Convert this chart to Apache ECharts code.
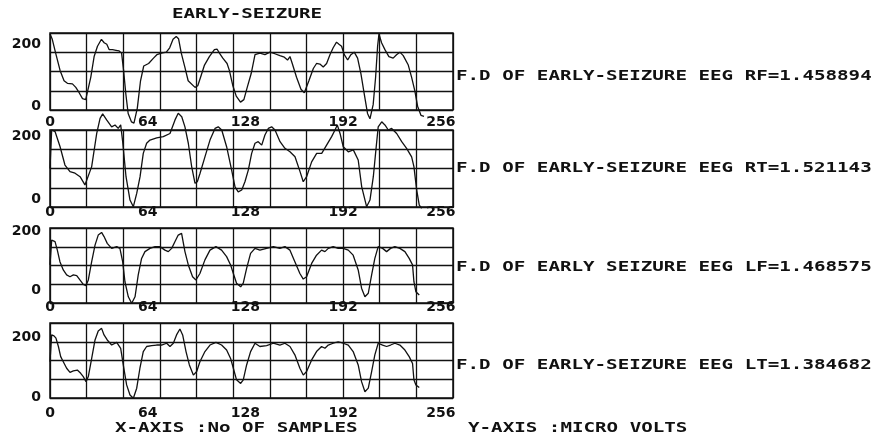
<!DOCTYPE html>
<html>
<head>
<meta charset="utf-8">
<script src="https://cdn.jsdelivr.net/npm/echarts@6/dist/echarts.min.js"></script>
<style>html,body{margin:0;padding:0;background:#fff}#c{width:879px;height:438px}</style>
</head>
<body>
<div id="c"></div>
<script>
// ---- data (sample number, micro volts) ----
const chartTitle = 'EARLY-SEIZURE';
const xTickLabels = [0, 64, 128, 192, 256];
const yTickLabels = [0, 200];
const xAxisTitle = 'X-AXIS :No OF SAMPLES';
const yAxisTitle = 'Y-AXIS :MICRO VOLTS';
const panelNotes = [
  'F.D OF EARLY-SEIZURE EEG RF=1.458894',
  'F.D OF EARLY-SEIZURE EEG RT=1.521143',
  'F.D OF EARLY SEIZURE EEG LF=1.468575',
  'F.D OF EARLY-SEIZURE EEG LT=1.384682'
];
const rfTrace = [[0,232],[1.5,215],[3.7,171],[6.6,116],[9.2,83],[11.4,75],[14.7,73],[16.9,62],[19.1,45],[21.3,26],[23.4,23],[26.7,94],[28.9,160],[31.1,193],[33.7,215],[35.5,204],[37.2,199],[38.8,182],[41,182],[43.2,180],[45.3,178],[46.9,171],[48.2,116],[49.7,40],[51.2,-21],[53.4,-48],[55,-52],[57.2,-4],[59.3,83],[61.4,130],[64.6,138],[67.8,155],[70,166],[73,171],[76.2,174],[78.4,188],[80.6,215],[82.7,224],[84.2,217],[86,171],[88.3,127],[90.5,83],[95,62],[96.8,67],[99,100],[101.2,133],[104.4,160],[107.7,182],[109.4,184],[111,171],[113.2,155],[116,138],[117.5,116],[119.8,67],[122,34],[124.8,15],[127,23],[129.2,62],[131.8,106],[134.3,166],[137.5,171],[140.8,166],[144.1,174],[147.3,169],[150.6,163],[153.5,158],[155.6,149],[157.2,160],[158.7,138],[161.5,94],[164.4,56],[166.6,45],[167.6,51],[169.6,83],[172.5,122],[174.6,138],[176.8,136],[179,127],[181.2,138],[183.4,166],[185.5,188],[187.7,206],[189.3,199],[191,193],[192.8,166],[195,149],[197.1,166],[199.3,174],[201.5,155],[203.7,105],[205.9,40],[208,-21],[209.6,-38],[211.7,7],[213.3,94],[214.6,193],[215.5,232],[217.2,204],[219.4,182],[222,160],[224.8,155],[227,166],[229.2,174],[231.4,163],[234.7,133],[236.9,94],[239,51],[240.8,2],[243,-27],[245,-30]];
const rtTrace = [[0,97],[1.1,219],[3.3,214],[6.6,166],[9.8,108],[13.1,87],[16.4,82],[19.7,71],[22.9,45],[24,39],[27.3,103],[30.6,208],[32.8,256],[34.5,270],[37.1,251],[40.4,229],[42.6,235],[44.7,224],[46.3,235],[47.6,182],[49.8,71],[52.4,-3],[54.6,-24],[56.8,18],[59,71],[61.1,145],[63.3,177],[65.5,187],[69.9,194],[74.2,198],[78.6,208],[81.9,251],[84,272],[86.3,261],[88.4,229],[90.6,177],[92.8,103],[95,50],[96.5,55],[98.3,82],[101.5,134],[104.8,187],[108.1,224],[110.2,229],[112.5,219],[115.7,166],[119,92],[121.2,39],[123.3,23],[125.6,29],[127.7,55],[129.9,92],[132.1,145],[134.3,177],[136.4,182],[138.7,171],[140.8,203],[143,224],[145.2,229],[147.4,219],[150.7,182],[153.9,161],[157.2,150],[160.5,134],[163.8,87],[165.9,55],[168.1,71],[171.4,118],[174.7,145],[178,145],[181.2,171],[184.5,198],[186.7,219],[188.2,235],[190,208],[192.1,166],[195.4,150],[198.7,156],[201.9,124],[204.2,39],[207.4,-24],[209.6,-3],[211.8,71],[213.5,156],[215,229],[217.3,245],[219.4,235],[221.6,219],[223.8,224],[227.1,208],[230.4,182],[233.6,161],[236.9,134],[238.4,103],[240.2,29],[241.9,-19],[243.5,-29]];
const lfTrace = [[0,87],[1.1,171],[1.7,177],[3.3,166],[4.8,137],[6.5,98],[8.7,70],[10.9,53],[13.1,47],[15.3,53],[17.5,51],[19.6,36],[21.8,21],[23.6,17],[25.1,36],[27.3,98],[29.5,154],[31.6,188],[33.8,197],[35.4,183],[37.5,160],[40.4,143],[43.7,149],[45.8,143],[47.6,98],[49.1,30],[51.3,-21],[53.5,-43],[55.7,-21],[57.8,53],[60,109],[62.2,132],[65.5,143],[68.8,149],[72,149],[75.3,137],[77.5,132],[79.7,143],[81.9,166],[84,188],[86.2,194],[88.4,132],[90.6,87],[93.4,47],[95.6,36],[98.2,58],[101.5,104],[104.8,137],[108.7,149],[112.4,137],[115.7,115],[118.3,87],[120.1,58],[122.2,25],[124.9,13],[126.6,25],[128.8,75],[131.4,126],[134.3,143],[137.5,137],[141.9,143],[146.3,149],[150.6,143],[153.9,149],[157.2,137],[160.4,98],[163.7,58],[165.9,39],[168.1,47],[171.4,92],[174.6,120],[177.9,137],[180.1,132],[182.3,143],[185.5,149],[188.8,143],[192.1,143],[195.4,137],[198.6,120],[201.9,70],[204.1,8],[206.3,-21],[208.5,-9],[210.7,53],[212.8,109],[215,149],[217.9,143],[220.5,132],[223.1,143],[225.9,149],[229.2,143],[232.5,132],[235.3,109],[237.5,87],[238.4,30],[239.7,-4],[241.9,-15]];
const ltTrace = [[0,119],[1.1,209],[2.6,206],[3.9,198],[5.5,170],[7,136],[8.7,119],[10.9,97],[13.1,83],[15.3,88],[17.9,91],[20.1,80],[21.8,69],[23.6,52],[25.1,69],[27.3,130],[29.5,192],[31.6,222],[33.8,231],[35.4,209],[37.5,192],[40.4,175],[43.7,184],[46.3,164],[48,108],[50.2,41],[52.4,7],[54.6,-4],[56.8,30],[58.9,97],[61.1,153],[63.3,170],[66.6,173],[69.8,175],[73.1,175],[76.4,181],[78.6,170],[80.8,181],[82.9,209],[85.1,229],[86.9,209],[89.1,153],[91.3,108],[93.9,74],[96.1,86],[98.2,119],[101.5,153],[104.8,175],[108.7,184],[112.4,175],[115.7,158],[118.3,130],[120.1,97],[122.2,58],[124.9,46],[126.6,58],[128.8,108],[131.4,153],[134.3,181],[137.5,170],[141.9,173],[146.3,181],[150.6,175],[153.9,181],[157.2,170],[160.4,142],[163.7,97],[165.9,74],[168.1,86],[171.4,125],[174.6,153],[177.9,170],[180.1,164],[182.3,175],[185.5,181],[188.8,186],[192.1,181],[195.4,175],[198.6,153],[201.9,108],[204.1,52],[206.3,18],[208.5,30],[210.7,86],[212.8,142],[215,181],[217.9,175],[220.5,170],[223.1,175],[225.9,181],[229.2,175],[232.5,158],[235.3,136],[237.5,113],[238.4,58],[239.7,41],[241.9,32]];

// ---- layout ----
const traces = [rfTrace, rtTrace, lfTrace, ltTrace];
const panels = [
  {top: 33, height: 77, yMin: -10, yMax: 235, xLabelMargin: 5, noteY: 76},
  {top: 130, height: 77, yMin: -25, yMax: 219, xLabelMargin: -2, noteY: 168},
  {top: 228, height: 75, yMin: -42, yMax: 212, xLabelMargin: -3, noteY: 267},
  {top: 323, height: 75, yMin: -3, yMax: 249, xLabelMargin: 8, noteY: 365}
];
const INK = '#111';
const labelFont = {color: INK, fontFamily: 'DejaVu Sans', fontWeight: 'bold', fontSize: 14};
const monoFont = 'bold 14px "DejaVu Sans Mono"';
const SX = 1.37;

const grid = [], xAxis = [], yAxis = [], series = [], graphic = [];
panels.forEach((p, i) => {
  grid.push({left: 50, top: p.top, width: 403, height: p.height, show: true,
    borderColor: INK, borderWidth: 1.5, backgroundColor: 'transparent'});
  xAxis.push({type: 'value', gridIndex: i, min: 0, max: 264, interval: 24,
    axisLine: {show: false}, axisTick: {show: false},
    splitLine: {show: true, lineStyle: {color: INK, width: 1.3}},
    axisLabel: Object.assign({customValues: xTickLabels, margin: p.xLabelMargin}, labelFont)});
  yAxis.push({type: 'value', gridIndex: i, min: p.yMin, max: p.yMax,
    axisLine: {show: false}, axisTick: {show: false}, splitLine: {show: false},
    axisLabel: Object.assign({customValues: yTickLabels, margin: 9}, labelFont)});
  yAxis.push({type: 'value', gridIndex: i, min: 0, max: 4, interval: 1, position: 'left',
    axisLine: {show: false}, axisTick: {show: false}, axisLabel: {show: false},
    splitLine: {show: true, lineStyle: {color: INK, width: 1.3}}});
  series.push({type: 'line', xAxisIndex: i, yAxisIndex: 2 * i, data: traces[i],
    showSymbol: false, clip: false, smooth: false,
    lineStyle: {color: INK, width: 1.3}, silent: true});
  graphic.push({type: 'text', x: 456, y: p.noteY, scaleX: SX,
    style: {text: panelNotes[i], font: monoFont, fill: INK, align: 'left', verticalAlign: 'middle'}});
});
graphic.push({type: 'text', x: 247, y: 14, scaleX: SX,
  style: {text: chartTitle, font: monoFont, fill: INK, align: 'center', verticalAlign: 'middle'}});
graphic.push({type: 'text', x: 115, y: 428, scaleX: SX,
  style: {text: xAxisTitle, font: monoFont, fill: INK, align: 'left', verticalAlign: 'middle'}});
graphic.push({type: 'text', x: 468, y: 428, scaleX: SX,
  style: {text: yAxisTitle, font: monoFont, fill: INK, align: 'left', verticalAlign: 'middle'}});

const chart = echarts.init(document.getElementById('c'), null, {renderer: 'canvas'});
chart.setOption({
  animation: false,
  backgroundColor: '#fff',
  grid, xAxis, yAxis, series, graphic
});
</script>
</body>
</html>
